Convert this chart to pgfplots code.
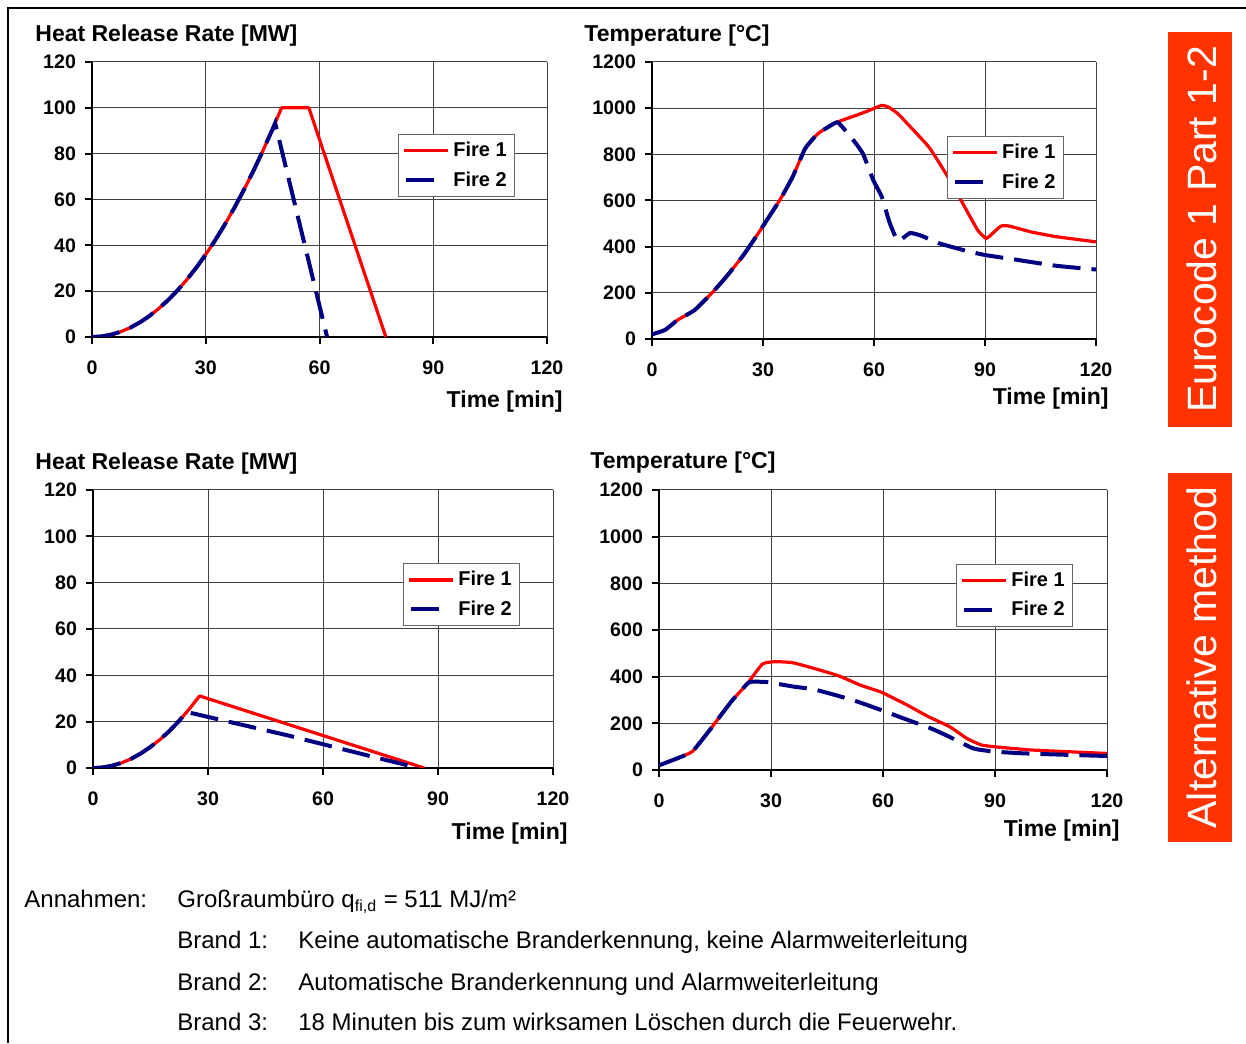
\documentclass[border=0pt]{standalone}
\usepackage{fontspec}
\setmainfont{Liberation Sans}
\usepackage{pgfplots}
\pgfplotsset{compat=1.18}
\definecolor{fred}{RGB}{255,0,0}
\definecolor{fblue}{RGB}{0,0,128}
\definecolor{boxred}{RGB}{255,51,0}

\pgfplotsset{
 fireax/.style={
  scale only axis,
  axis lines=left,
  axis line style={-, line width=1.1pt, black},
  xmin=0, xmax=120, xtick={0,30,60,90,120},
  ymin=0,
  tick align=outside,
  major tick length=3.5pt,
  every tick/.style={black, line width=1pt},
  grid=major,
  major grid style={black!75, line width=0.5pt},
  tick label style={font=\bfseries\fontsize{9.8}{11}\selectfont},
  /pgf/number format/assume math mode=true,
  /pgf/number format/1000 sep={},
  xticklabel style={yshift=-5pt},
  yticklabel style={xshift=-1pt},
  legend cell align=left,
  legend style={font=\bfseries\fontsize{10}{12}\selectfont, draw=black!60, line width=0.5pt, fill=white, anchor=north west, inner sep=1.8pt, row sep=2pt},
 },
 hrr/.style={ymax=120, ytick={0,20,40,60,80,100,120}},
 temp/.style={ymax=1200, ytick={0,200,400,600,800,1000,1200}},
 f1/.style={fred, line width=1.6pt, line join=round, legend image code/.code={\draw[##1] (0pt,0pt) -- (22pt,0pt);}},
 f2/.style={fblue, line width=2pt, dash pattern=on 14pt off 5.5pt, legend image code/.code={\draw[##1] (1pt,0pt) -- (16pt,0pt);}},
}

\begin{document}
\begin{tikzpicture}
\useasboundingbox (0pt,0pt) rectangle (623pt,521.5pt);
% frame
\draw[black, line width=0.6pt] (623pt,517.5pt) -- (4pt,517.5pt) -- (4pt,0pt);

% ---------- top left: HRR Eurocode ----------
\begin{axis}[fireax, hrr, at={(46pt,353pt)}, anchor=south west, width=227.5pt, height=137.5pt,
  legend style={at={(rel axis cs:0.6725,0.738)}}]
\addplot[f1] coordinates {(0,0)(2.5,0.25)(5,1)(7.5,2.25)(10,4)(12.5,6.25)(15,9)(17.5,12.25)(20,16)(22.5,20.25)(25,25)(27.5,30.25)(30,36)(32.5,42.25)(35,49)(37.5,56.25)(40,64)(42.5,72.25)(45,81)(47.5,90.25)(50,100)(57.2,100)(77.5,0)};
\addlegendentry{Fire 1}
\addplot[f2] coordinates {(0,0)(2.5,0.25)(5,1)(7.5,2.25)(10,4)(12.5,6.25)(15,9)(17.5,12.25)(20,16)(22.5,20.25)(25,25)(27.5,30.25)(30,36)(32.5,42.25)(35,49)(37.5,56.25)(40,64)(42.5,72.25)(45,81)(47.5,90.25)(48.3,93.3)(62,0)};
\addlegendentry{Fire 2}
\end{axis}

% ---------- top right: Temperature Eurocode ----------
\begin{axis}[fireax, temp, at={(326pt,352pt)}, anchor=south west, width=222pt, height=138.5pt,
  legend style={at={(rel axis cs:0.664,0.733)}}]
\addplot[f1, smooth, tension=0.3] coordinates {(0,20)(3.5,39)(6.9,82)(11.5,125)(16.1,198)(20.1,270)(24.7,363)(29.3,472)(34.5,601)(38,702)(41.4,825)(44.9,890)(49.5,936)(55.2,969)(59,992)(62.1,1012)(64,1004)(66.5,975)(69,933)(74.8,832)(79.4,717)(84,587)(88,472)(90.3,436)(92,457)(94.3,489)(96.6,489)(102.4,464)(109.3,443)(120,421)};
\addlegendentry{Fire 1}
\addplot[f2, smooth, tension=0.3] coordinates {(0,20)(3.5,39)(6.9,82)(11.5,125)(16.1,198)(20.1,270)(24.7,363)(29.3,472)(34.5,601)(38,702)(41.4,825)(44.9,890)(49.5,936)(50.5,935)(54.1,868)(57,803)(59.8,688)(62.1,616)(64.2,505)(66.5,425)(69.7,459)(73,446)(77.3,416)(85.1,381)(90.3,363)(97.8,345)(109.3,317)(120,301)};
\addlegendentry{Fire 2}
\end{axis}

% ---------- bottom left: HRR alternative ----------
\begin{axis}[fireax, hrr, at={(46.5pt,137.5pt)}, anchor=south west, width=230pt, height=139pt,
  legend style={at={(rel axis cs:0.674,0.737)}}]
\addplot[f1] coordinates {(0,0)(2.5,0.25)(5,1)(7.5,2.25)(10,4)(12.5,6.3)(15,9.1)(17.5,12.3)(20,16.1)(22.5,20.4)(25,25.2)(27.8,31.1)(86.4,0)};
\addlegendentry{Fire 1}
\addplot[f2] coordinates {(0,0)(2.5,0.25)(5,1)(7.5,2.25)(10,4)(12.5,6.3)(15,9.1)(17.5,12.3)(20,16.1)(22.5,20.4)(24.4,24.2)(51,14)(74.3,4.3)(85,0)};
\addlegendentry{Fire 2}
\end{axis}

% ---------- bottom right: Temperature alternative ----------
\begin{axis}[fireax, temp, at={(329.5pt,136.5pt)}, anchor=south west, width=224pt, height=140pt,
  legend style={at={(rel axis cs:0.663,0.736)}}]
\addplot[f1, smooth, tension=0.3] coordinates {(0,20)(4.9,50)(8.9,79)(12.9,157)(16.3,229)(19.7,300)(23.7,371)(27.7,454)(31.1,464)(35.7,460)(41.4,436)(48.2,403)(53.9,364)(59.6,333)(66.4,279)(72.1,229)(77.8,186)(82.4,136)(86.4,107)(91.5,97)(99.5,86)(108.6,79)(120,71)};
\addlegendentry{Fire 1}
\addplot[f2, smooth, tension=0.3] coordinates {(0,20)(4.9,50)(8.9,79)(12.9,157)(16.3,229)(19.7,300)(23.7,371)(24.5,378)(28.8,377)(36.2,357)(41.4,346)(48.8,314)(53.7,290)(60.7,250)(65.5,221)(72.7,179)(77.3,146)(84.1,93)(89.2,80)(96.6,72)(109.2,65)(120,60)};
\addlegendentry{Fire 2}
\end{axis}

% ---------- titles and axis labels ----------
\begin{scope}[every node/.style={inner sep=0pt, font=\bfseries\fontsize{11.5}{13}\selectfont}]
\node[anchor=base west] at (17.5pt,500.5pt) {Heat Release Rate [MW]};
\node[anchor=base west] at (292pt,500.5pt) {Temperature [°C]};
\node[anchor=base west] at (17.5pt,286.5pt) {Heat Release Rate [MW]};
\node[anchor=base west] at (295pt,287pt) {Temperature [°C]};
\node[anchor=base east] at (281.5pt,317.5pt) {Time [min]};
\node[anchor=base east] at (554.5pt,319pt) {Time [min]};
\node[anchor=base east] at (284pt,101.5pt) {Time [min]};
\node[anchor=base east] at (560pt,103pt) {Time [min]};
\end{scope}

% ---------- side boxes ----------
\fill[boxred] (584pt,505.5pt) rectangle (616pt,308pt);
\fill[boxred] (584pt,285pt) rectangle (616pt,100.5pt);
\node[rotate=90, white, inner sep=0pt, font=\fontsize{20.5}{24}\selectfont] at (601pt,406.75pt) {Eurocode 1 Part 1-2};
\node[rotate=90, white, inner sep=0pt, font=\fontsize{20.5}{24}\selectfont] at (601pt,192.75pt) {Alternative method};

% ---------- footer ----------
\begin{scope}[every node/.style={inner sep=0pt, anchor=base west, font=\fontsize{12}{14}\selectfont}]
\node at (12pt,67.5pt) {Annahmen:};
\node at (88.5pt,67.5pt) {Großraumbüro q\textsubscript{fi,d} = 511 MJ/m²};
\node at (88.5pt,47pt) {Brand 1:};
\node at (149pt,47pt) {Keine automatische Branderkennung, keine Alarmweiterleitung};
\node at (88.5pt,26.5pt) {Brand 2:};
\node at (149pt,26.5pt) {Automatische Branderkennung und Alarmweiterleitung};
\node at (88.5pt,6.5pt) {Brand 3:};
\node at (149pt,6.5pt) {18 Minuten bis zum wirksamen Löschen durch die Feuerwehr.};
\end{scope}
\end{tikzpicture}
\end{document}
